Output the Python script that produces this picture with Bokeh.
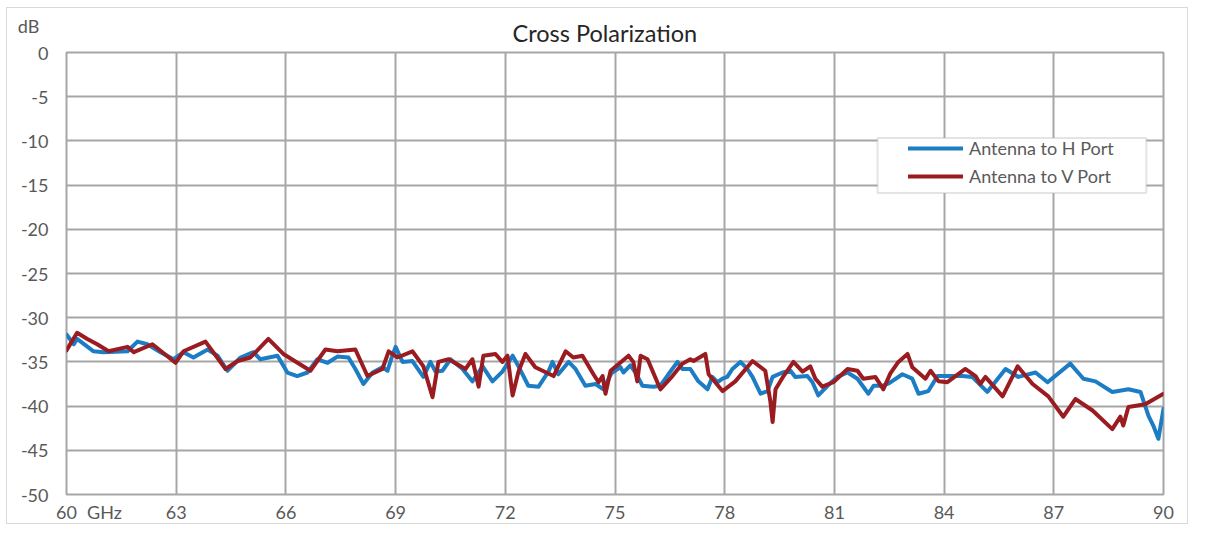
from bokeh.plotting import figure
from bokeh.models import Legend, LegendItem, BoxAnnotation, FixedTicker, Range1d
from bokeh.embed import file_html
from bokeh.resources import INLINE

# ---- data ----
title_text = "Cross Polarization"
y_unit = "dB"
x_unit = "GHz"
x_ticks = [60, 63, 66, 69, 72, 75, 78, 81, 84, 87, 90]
y_ticks = [0, -5, -10, -15, -20, -25, -30, -35, -40, -45, -50]
x_unit_pos = 61.04
series_names = ["Antenna to H Port", "Antenna to V Port"]

h_freq = [60.0, 60.2, 60.29, 60.74, 61.01, 61.67, 61.94, 62.21, 62.57, 62.93, 63.2, 63.47, 63.86, 64.13,
          64.4, 64.76, 65.11, 65.3, 65.77, 66.04, 66.31, 66.59, 66.86, 67.14, 67.41, 67.71, 67.9, 68.12,
          68.37, 68.64, 68.78, 68.91, 69.0, 69.19, 69.46, 69.76, 69.95, 70.09, 70.28, 70.5, 70.83, 71.1,
          71.38, 71.65, 71.92, 72.2, 72.36, 72.63, 72.91, 73.18, 73.29, 73.45, 73.73, 73.92, 74.19, 74.47,
          74.68, 74.9, 75.15, 75.23, 75.42, 75.56, 75.75, 76.05, 76.24, 76.46, 76.71, 76.84, 77.06, 77.28,
          77.53, 77.66, 77.8, 77.94, 78.07, 78.21, 78.43, 78.62, 78.76, 78.98, 79.17, 79.31, 79.58, 79.8,
          79.93, 80.26, 80.4, 80.56, 80.81, 81.08, 81.36, 81.63, 81.93, 82.07, 82.31, 82.5, 82.86, 83.13,
          83.3, 83.57, 83.82, 84.5, 84.77, 85.18, 85.68, 86.03, 86.5, 86.83, 87.45, 87.81, 88.14, 88.6,
          89.04, 89.37, 89.59, 89.72, 89.86, 90.0]
h_db = [-31.9, -33.0, -32.4, -33.8, -33.9, -33.8, -32.7, -33.0, -33.9, -34.7, -33.9, -34.5, -33.6, -34.3,
        -36.0, -34.5, -33.9, -34.7, -34.3, -36.2, -36.6, -36.2, -34.7, -35.1, -34.4, -34.5, -35.8, -37.5,
        -36.2, -35.6, -36.0, -34.3, -33.3, -35.0, -34.9, -36.7, -35.0, -36.1, -36.0, -34.7, -35.8, -37.2,
        -35.5, -37.2, -36.1, -34.3, -35.5, -37.7, -37.8, -36.1, -35.0, -36.4, -35.0, -35.8, -37.7, -37.5,
        -38.1, -36.3, -35.6, -36.2, -35.4, -36.2, -37.7, -37.8, -37.7, -36.4, -35.0, -35.8, -35.8, -37.2,
        -38.1, -36.7, -37.3, -36.9, -36.7, -35.8, -35.0, -35.8, -36.7, -38.6, -38.3, -36.7, -36.2, -36.0,
        -36.7, -36.6, -37.3, -38.8, -37.7, -36.7, -36.2, -36.9, -38.6, -37.7, -37.7, -37.4, -36.4, -36.9,
        -38.6, -38.3, -36.6, -36.6, -36.7, -38.4, -35.8, -36.7, -36.2, -37.3, -35.2, -36.9, -37.2, -38.4,
        -38.1, -38.4, -41.1, -42.2, -43.7, -40.3]

v_freq = [60.0, 60.29, 60.57, 60.84, 61.15, 61.67, 61.84, 62.35, 62.98, 63.2, 63.8, 64.35, 64.68, 65.03,
          65.52, 65.93, 66.67, 67.08, 67.41, 67.9, 68.23, 68.64, 68.81, 69.05, 69.46, 69.76, 70.01, 70.17,
          70.45, 70.91, 71.1, 71.27, 71.4, 71.73, 71.92, 72.06, 72.2, 72.36, 72.55, 72.82, 73.32, 73.65,
          73.86, 74.11, 74.41, 74.55, 74.66, 74.74, 74.88, 75.37, 75.5, 75.61, 75.7, 75.89, 76.24, 76.57,
          76.84, 77.06, 77.15, 77.47, 77.56, 77.94, 78.29, 78.76, 79.11, 79.25, 79.31, 79.39, 79.61, 79.88,
          80.13, 80.34, 80.48, 80.67, 80.97, 81.36, 81.63, 81.79, 82.12, 82.34, 82.53, 82.75, 83.0, 83.13,
          83.49, 83.63, 83.85, 84.09, 84.58, 84.86, 84.99, 85.13, 85.6, 86.01, 86.42, 86.85, 87.26, 87.59,
          88.06, 88.6, 88.82, 88.9, 89.04, 89.5, 90.0]
v_db = [-33.7, -31.7, -32.4, -33.0, -33.8, -33.3, -33.9, -33.0, -35.1, -33.8, -32.7, -35.8, -34.9, -34.5,
        -32.4, -34.1, -36.0, -33.6, -33.8, -33.6, -36.6, -35.8, -33.8, -34.5, -33.8, -35.5, -39.0, -35.0,
        -34.7, -35.8, -34.7, -37.8, -34.3, -34.1, -35.0, -34.3, -38.8, -36.1, -34.1, -35.6, -36.6, -33.8,
        -34.5, -34.3, -36.4, -37.3, -36.6, -38.6, -36.0, -34.3, -35.0, -37.2, -34.3, -34.7, -38.1, -36.6,
        -35.2, -34.7, -34.9, -34.1, -36.4, -38.3, -37.2, -34.9, -36.0, -39.5, -41.8, -38.1, -36.6, -35.0,
        -36.1, -35.5, -36.9, -37.8, -37.3, -35.8, -36.0, -36.9, -36.7, -38.1, -36.3, -35.0, -34.1, -35.6,
        -36.9, -36.0, -37.2, -37.3, -35.8, -36.6, -37.5, -36.7, -38.9, -35.5, -37.5, -38.9, -41.2, -39.2,
        -40.5, -42.6, -41.2, -42.2, -40.1, -39.8, -38.6]

# ---- styling ----
FONT = "Lato"
GRID = "#a6a6a6"
TXT = "#595959"
BLUE = "#1C7DC4"
RED = "#9B1C20"
NB = "\u00a0"

p = figure(width=1182, height=517, output_backend="svg", toolbar_location=None,
           x_range=Range1d(60, 90), y_range=Range1d(-50, 0),
           min_border_left=59, min_border_right=26, min_border_top=44, min_border_bottom=29)
p.styles = {"border": "1px solid #d9d9d9", "margin-left": "6px", "margin-top": "7px"}

p.title.text = title_text
p.title.align = "left"
p.title.offset = 446
p.title.standoff = 12
p.title.text_font = FONT
p.title.text_font_size = "23.5px"
p.title.text_font_style = "normal"
p.title.text_color = "#262626"

p.outline_line_color = GRID
p.outline_line_width = 2

for ax in (p.xaxis[0], p.yaxis[0]):
    ax.axis_line_color = None
    ax.major_tick_line_color = None
    ax.minor_tick_line_color = None
    ax.major_tick_out = 0
    ax.major_tick_in = 0
    ax.minor_tick_out = 0
    ax.minor_tick_in = 0
    ax.major_label_text_font = FONT
    ax.major_label_text_font_size = "18px"
    ax.major_label_text_color = TXT

p.xaxis[0].ticker = FixedTicker(ticks=x_ticks + [x_unit_pos])
p.xaxis[0].major_label_overrides = {x_unit_pos: x_unit}
p.yaxis[0].ticker = FixedTicker(ticks=y_ticks)
y_labels = {t: str(t) for t in y_ticks}
# unit shown above the top tick label
y_labels[0] = y_unit + NB * 2 + "\n" + str(0) + "\n" + NB
p.yaxis[0].major_label_overrides = y_labels
p.xaxis[0].major_label_standoff = 6
p.yaxis[0].major_label_standoff = 18

p.xgrid[0].ticker = FixedTicker(ticks=x_ticks)
p.ygrid[0].ticker = FixedTicker(ticks=y_ticks)
for g in (p.xgrid[0], p.ygrid[0]):
    g.grid_line_color = GRID
    g.grid_line_width = 2

r_h = p.line(h_freq, h_db, line_color=BLUE, line_width=4, line_join="round", line_cap="round")
r_v = p.line(v_freq, v_db, line_color=RED, line_width=4, line_join="round", line_cap="round")

# legend frame
box = BoxAnnotation(left=82.18, right=89.53, top=-9.68, bottom=-15.88,
                    fill_color="white", fill_alpha=1.0, line_color=GRID, line_width=2)
p.add_layout(box)

legend = Legend(items=[LegendItem(label=series_names[0], renderers=[r_h]),
                       LegendItem(label=series_names[1], renderers=[r_v])],
                location=(842, 304), padding=0, margin=0, spacing=0,
                glyph_width=55, glyph_height=28, label_height=28, label_standoff=6,
                label_text_font=FONT, label_text_font_size="18px", label_text_color=TXT,
                border_line_alpha=0, background_fill_alpha=0)
p.add_layout(legend, "center")

open("out.html", "w").write(file_html(p, INLINE))
